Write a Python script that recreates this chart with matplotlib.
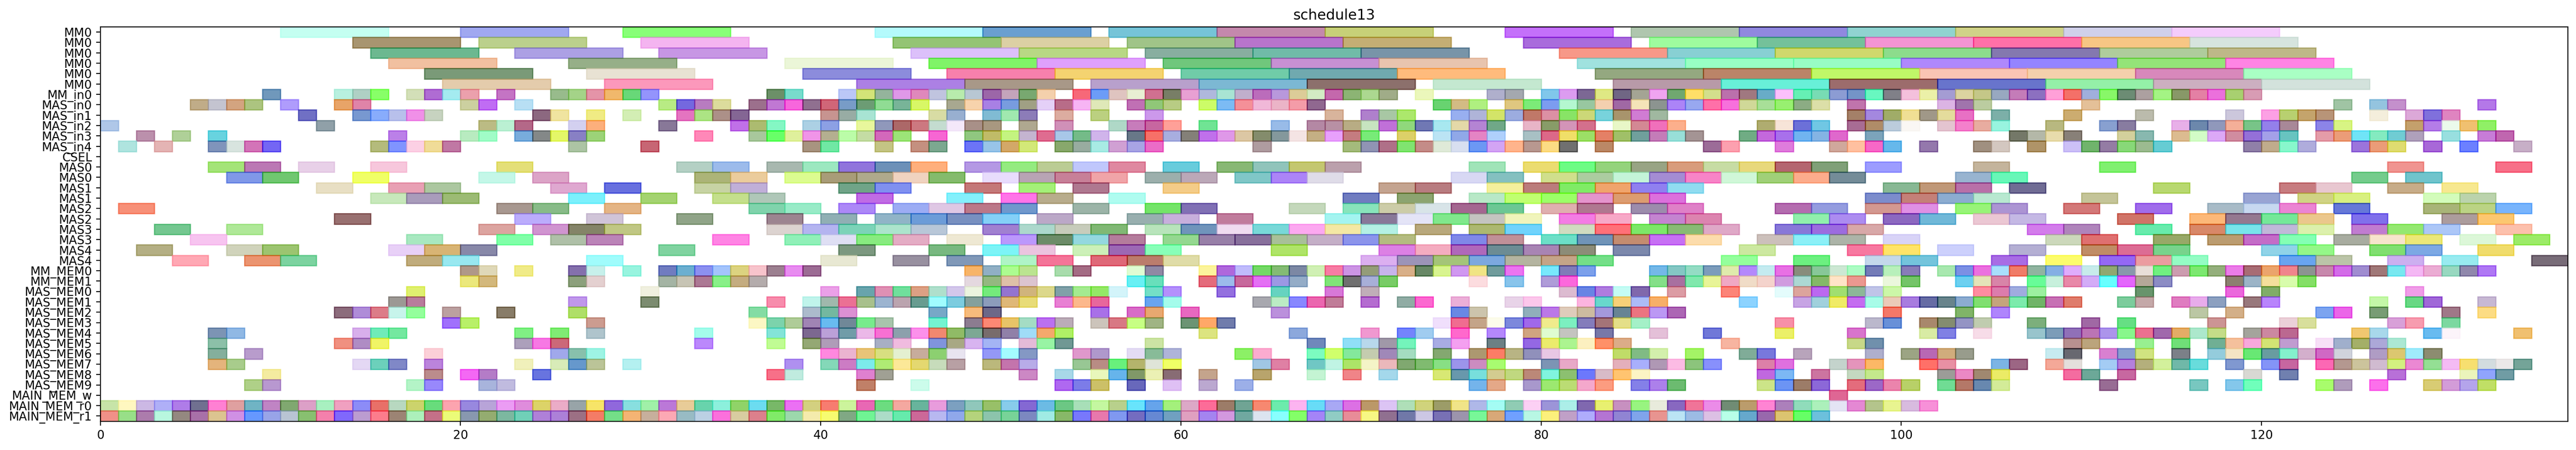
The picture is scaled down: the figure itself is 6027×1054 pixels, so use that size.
"""
Gantt view of one schedule: each row is a resource, each bar one operation.
"""
import matplotlib
matplotlib.use('Agg')
import matplotlib.pyplot as plt

TITLE = 'schedule13'
ALPHA = 0.6

row_labels = ['MM0'] * 6 + ['MM_in0', 'MAS_in0', 'MAS_in1', 'MAS_in2', 'MAS_in3', 'MAS_in4', 'CSEL',
              'MAS0', 'MAS0', 'MAS1', 'MAS1', 'MAS2', 'MAS2', 'MAS3', 'MAS3', 'MAS4', 'MAS4',
              'MM_MEM0', 'MM_MEM1', 'MAS_MEM0', 'MAS_MEM1', 'MAS_MEM2', 'MAS_MEM3', 'MAS_MEM4',
              'MAS_MEM5', 'MAS_MEM6', 'MAS_MEM7', 'MAS_MEM8', 'MAS_MEM9',
              'MAIN_MEM_w', 'MAIN_MEM_r0', 'MAIN_MEM_r1']
durations = [6] * 6 + [1] * 6 + [1] + [2] * 10 + [1] * 15

# start time -> colour as it looks on white
mm0_a = {10: 'c4fff2', 20: 'a0a8f0', 29: '88ff78', 43: 'b4fafc', 49: '6a9fd0', 56: '76c4d8', 62: 'c488ac', 68: 'c8d078', 78: 'c470fa', 85: 'b0c6ae', 91: '9088e0', 97: '90d4d0', 103: 'd0d288', 109: 'd0d0ea', 115: 'f4ccfc'}
mm0_b = {14: 'a89570', 21: 'bcd08c', 30: 'f4b4f0', 44: '94c474', 50: 'dcd0a4', 57: 'a0c488', 63: 'b874cc', 69: 'c4ae74', 79: 'aa6cdc', 86: '9efc9e', 92: '74c29a', 98: 'f494d4', 104: 'ff70a8', 110: 'f8c684', 116: 'd6e4de'}
mm0_c = {15: '6cb890', 23: 'aca0e4', 31: 'c896e4', 45: 'dcc0fa', 51: 'b8d884', 58: '88aea0', 64: '70bca8', 70: '7894a8', 81: 'f89888', 87: '88d0d4', 93: 'd0d86c', 99: '8cdc8c', 105: '8478b0', 111: 'b0cc9c', 117: 'beb888'}
mm0_d = {16: 'f2c0a0', 26: '96b088', 38: 'ecf6d8', 46: '80f468', 52: 'e0a0fc', 59: '70c87c', 65: 'c890d4', 71: 'e8c4ae', 82: 'a0e2e0', 88: '98ffc4', 94: '98fcc4', 100: 'b088fc', 106: '9484ff', 112: '94e478', 118: 'ff84e4'}
mm0_e = {18: '7a9a78', 27: 'e8e2d4', 39: '8c8cdc', 47: 'f880ac', 53: 'f4d470', 60: '70cca8', 66: '70aab0', 72: 'ffbc7c', 83: '94a880', 89: 'bc8468', 95: 'c0f868', 101: 'fac4b4', 107: 'f4d0ac', 113: 'd888bc', 119: 'aaffc4'}
mm0_f = {19: 'e4ccac', 28: 'fc98bc', 42: 'ac80e4', 48: 'a89888', 55: 'b8a0cc', 61: '7cb8d4', 67: '8c706c', 74: 'c4e8d0', 84: 'b89aa8', 90: '68f0d8', 96: '9c6c6c', 102: '6874cc', 108: '94f0a8', 114: 'ccb0c0', 120: 'd4e2dc'}
mm_in0 = {9: '7098bc', 13: 'b8f0e0', 14: 'b0d0c4', 15: '88ff68', 17: 'd4e0b8', 18: 'b06cd4', 19: 'a4ecf0', 20: 'eca0ac', 22: 'c474c4', 25: '98bc8c', 26: 'a4d488', 27: 'e494a8', 28: 'f0b86c', 29: '68d878', 30: '9494fc', 37: '6c9068', 38: '78dccc', 41: 'bcc8f8', 42: 'd4e478', 43: '94b49c', 44: 'e098e8', 45: 'e088bc', 46: 'c0c4e0', 47: 'b8ecac', 48: 'b8c8d4', 49: '9c64a8', 50: 'c4a4bc', 51: '78a870', 52: 'f4d0ac', 54: 'f86878', 55: '6c9cf8', 56: 'e0c4c0', 57: 'e8eed4', 58: 'd07090', 59: '787e64', 60: 'e8a0d4', 61: 'b0b8dc', 62: 'a8e4d4', 63: 'c0b0cc', 64: 'bc6cbc', 65: 'b898dc', 66: 'dccc98', 67: 'd4ecc4', 68: 'c468ac', 69: '8cb474', 70: 'acd890', 71: 'a0ac88', 73: 'ecf8bc', 77: 'b0b0cc', 78: 'a4a8b0', 80: '80c8ec', 81: 'dc9cf0', 82: '7c6894', 83: 'e0e884', 84: '706484', 85: 'a4a494', 86: 'f0a4f0', 87: '70a870', 88: 'ffe068', 89: 'd4e08c', 90: 'bc70ac', 91: 'a07880', 92: '68acc8', 93: 'fcc0fc', 94: '60f0b4', 95: '78dcb4', 96: '8c9cd4', 97: '7494c8', 98: '68f8c0', 99: '808088', 100: 'f4c0dc', 101: 'ecf0a8', 102: 'a49cd4', 103: 'dcd4a0', 104: 'c4c888', 105: '98a8c0', 106: 'c47cb8', 107: '8c70c0', 108: 'ffa0d8', 109: 'f47068', 110: 'a0b0dc', 111: '88f868', 112: '6c8c74', 113: 'aca0a0', 114: 'a4f484', 115: '889868', 116: 'e480a4', 117: 'ec70dc', 118: 'a8d070', 119: 'd89cb4'}
mas_in0 = {5: 'c0ac88', 6: 'c4c4d0', 7: 'd4a480', 8: 'acc480', 10: 'b09cfc', 13: 'e8a468', 14: 'e084a8', 20: 'ccd0a0', 21: 'c06cf4', 23: 'b8e0f4', 31: 'b8ec84', 32: '7468e0', 33: 'b87cc0', 34: 'dcdc9c', 36: '9c708c', 37: 'c078d4', 38: 'f864dc', 39: '907090', 40: 'd06478', 41: '789cc8', 42: '6c9c74', 43: '90dc94', 44: '78b498', 45: 'd8f860', 47: 'a8a890', 48: 'f8d4ac', 49: 'a880e4', 50: '789ce0', 51: 'a0a084', 52: 'e4d0f8', 53: 'b86c88', 54: 'f8b4f4', 55: 'e0e8b8', 57: 'c070b4', 58: '90c878', 59: 'b8cc84', 61: 'ccfc68', 62: '7cbcf4', 63: 'f49098', 64: 'f0b8d8', 65: 'ecb4c8', 66: 'f49ca8', 67: '906890', 74: '68d470', 75: 'd4bc84', 76: 'b0f080', 78: 'e0c880', 79: '7cec78', 80: '7c9cf0', 81: 'b4f8d0', 82: '98c8a0', 83: 'f4d0b0', 84: 'a068a4', 85: 'f4e4b8', 86: '8c9490', 87: 'ac84f8', 88: '98a8f0', 89: 'ff70a8', 90: 'f870dc', 91: 'd0d898', 92: 'a8e098', 93: '98f070', 94: '8cac84', 95: 'dce0a8', 97: 'c074ac', 102: 'dcb4e4', 103: 'a074ac', 104: 'bccca0', 110: 'e4c098', 124: 'a0c4a4', 126: '94c4e0', 127: 'c490cc', 132: 'b478e8'}
mas_in1 = {11: '7070c4', 14: '7898d0', 15: '88acfc', 16: 'b8c0ec', 17: 'f090e8', 18: 'c8d4c0', 24: '8c6880', 25: 'f0e4a0', 27: 'f0ec84', 29: 'd4eeb4', 32: 'e474c0', 33: 'ace484', 34: 'ac9088', 35: '846494', 40: 'c89490', 41: '98aca4', 42: 'a8e4d4', 46: 'd8dca4', 47: '98b0d0', 49: '80bcd4', 50: 'a0e8b0', 51: '8c7cb8', 53: 'dcaca0', 55: 'bcd080', 58: 'cc98ec', 68: 'd8b49c', 70: 'b080cc', 71: 'a8c8a4', 72: 'ace86c', 75: '98b0f0', 76: 'b0b4d8', 77: 'd4e468', 78: '9cace0', 79: 'c07868', 80: 'dc90a4', 81: '88e460', 82: 'ccd878', 83: '78d4dc', 84: 'a8946c', 85: 'd07cd4', 86: 'a0b8a0', 97: 'a48068', 98: 'a488e0', 99: 'a0ac68', 100: 'f0e094', 101: 'a09888', 102: 'e4dc9c', 103: 'e870c4', 105: '7cb0a8', 109: 'ccac70', 113: 'bcbcac', 118: 'ccc8dc', 120: 'fca0e4', 121: 'b8d070', 122: 'c4a46c', 123: 'b89478', 126: 'f4eedc', 128: 'dca8d8', 129: '8070dc', 130: 'e084c0'}
mas_in2 = {0: 'b0c8e8', 12: '90a0a8', 21: 'bcbc84', 22: 'bcf0d4', 23: 'b46888', 26: 'd4d0f0', 27: 'fcb07c', 31: '887898', 35: 'c070e8', 36: 'acbc70', 37: '84f8c4', 39: 'acd0e4', 40: '8ca0e4', 42: 'e8f89c', 43: '9098bc', 44: 'ac6868', 45: 'cc7880', 46: 'c4dcd0', 47: 'f4e8fa', 48: 'a89088', 49: 'a89880', 51: 'b0a890', 53: 'd090b8', 56: 'b0d8c8', 57: 'c87cbc', 58: 'c860a0', 59: 'ffa098', 61: '70e494', 65: '98bce8', 67: 'b488a4', 68: 'b890a4', 69: 'b8ac84', 70: 'c8e4c0', 71: 'c070d8', 72: '90d87c', 73: '7078b4', 74: 'a8e8f0', 75: 'e4d8a8', 76: 'b484d4', 77: '70a888', 79: 'e8b4c8', 80: '889c68', 81: 'd494b8', 82: 'd4708c', 84: 'e8f8c8', 85: 'd48894', 86: 'f070bc', 87: 'fcb08c', 92: 'b0ac70', 93: 'f8e4d8', 94: '6c70d8', 95: '70c8e4', 97: 'a86c94', 98: 'b08c68', 99: 'bcccdc', 100: 'faf8f4', 102: 'e4c4d0', 103: 'f480cc', 104: 'e8aca0', 105: '98f4e0', 108: 'b8b880', 111: '88a0d0', 112: '887ca0', 115: 'e8b0e8', 116: '6c88ac', 117: '9098bc', 118: 'f4b098', 119: '78c488', 120: '9480ec', 121: 'a88898', 123: '8c84e8', 124: 'd8f484', 128: 'c4a06c', 129: 'b47ce8', 130: 'ecfaec', 131: 'f0c070', 132: '90f064'}
mas_in3 = {2: 'bc90ac', 4: 'b0d098', 6: '68d4e0', 16: 'bc80e8', 20: 'b8ecc0', 21: 'a0fcc8', 23: '78acdc', 24: '848888', 25: 'e4f868', 26: '8880c4', 27: '9cd478', 33: 'ff88b8', 36: 'a8c89c', 37: '68ff68', 38: 'e0f09c', 39: 'f094e8', 40: 'b4b090', 41: 'bcfca8', 42: 'c4dca4', 43: 'd468bc', 44: '9ce478', 46: 'f864d4', 48: '90c880', 49: 'c0bc68', 50: 'c4f480', 51: 'c4b4d0', 52: 'e06c90', 53: 'a8c8e8', 54: '74bc88', 55: 'd0b4ec', 57: '687888', 58: 'f87068', 59: 'a8aee0', 60: '848078', 61: 'c070ec', 62: 'e098e8', 63: 'dcc8a4', 64: '848c6c', 65: '84989c', 66: 'f4e4e4', 67: 'c4b084', 68: 'e8a0fc', 69: 'c47c80', 70: '78ec78', 72: 'dcd068', 74: 'bce4f4', 75: '90a8e8', 76: 'e484c4', 77: 'b0d0fc', 79: 'a8c0c4', 80: 'dc6888', 81: 'f0e068', 82: '9ce060', 83: 'e48064', 84: 'a0c068', 85: '70a09c', 86: 'c47cb8', 87: '98e0d8', 88: 'a49494', 91: '70ac84', 92: 'c468dc', 93: 'a870ec', 94: '70b4f0', 95: '84b4e4', 96: 'e068cc', 98: '7ca4bc', 106: '747868', 107: 'b4b8a8', 108: 'e8dcac', 109: '888078', 112: 'd4d09c', 113: '88b8b0', 115: 'dcbc90', 116: 'd4fcc8', 117: 'dca8f8', 118: 'd08ca0', 119: '9470d8', 120: 'a4a0e8', 121: '68c4c0', 123: 'e49ca8', 124: 'ec9c78', 125: '70e4f8', 126: '84ecc0', 127: '70ccd4', 128: 'b0a0bc', 130: '98e0e0', 132: 'c87cd8', 133: 'c060b0'}
mas_in4 = {1: 'b0e4e0', 3: 'e4b4b4', 6: '8094bc', 7: 'd8e4e0', 8: 'd474b8', 9: '7464f4', 15: 'b4bc7c', 16: '8094ff', 17: 'fcd0e4', 18: 'f0dc98', 19: 'c078a4', 26: 'acc4a4', 30: 'c86474', 39: 'a89480', 40: '70e8a4', 43: 'c4c484', 45: 'c49080', 46: '7ca890', 48: '6c74f8', 49: '98c4e8', 50: 'd4a868', 51: 'd4e878', 53: '88a86c', 54: '98aca0', 55: 'a8ece4', 56: 'd0a0d4', 57: 'a8a4e4', 58: 'ec6cc8', 64: 'b09ca0', 69: 'a4bc7c', 70: '9094b4', 71: 'b07088', 72: '80e470', 73: 'c48c88', 74: 'e0ead8', 75: 'd8e0f0', 76: '6c98f4', 77: 'd4a4f4', 78: 'ffb48c', 79: 'b89890', 80: 'fcdc84', 81: '707070', 83: 'bc8864', 89: '9c6c98', 90: 'fca0b0', 93: 'e07cdc', 96: 'd0a89c', 97: 'ffc0a0', 98: 'f868c8', 99: '64b8ec', 101: '9478ac', 104: 'a09080', 105: 'd4c8c0', 107: 'b09468', 109: 'ccc0f8', 110: '70b46c', 111: '947ca4', 112: '88d878', 113: '9cbc90', 114: '64ccd4', 119: '9080a8', 120: 'c0ac8c', 121: '88f8cc', 122: 'b0acdc', 125: '9c74dc', 126: 'ec9c78', 127: 'e0dc70', 129: 'a868d8', 131: '6c80ff', 134: 'c8b0c8'}
csel = {}
mas0_a = {6: 'a4e478', 8: 'bc78b4', 11: 'e8d0e8', 15: 'f8c8dc', 22: 'e4e078', 32: 'b4d0c4', 34: '9cbcec', 37: 'a8b8b0', 39: '9ce8c0', 41: '9074dc', 43: '6c90b8', 45: 'ffb07c', 48: 'b498e4', 50: '94ec80', 52: 'bccc94', 54: 'c0c8fc', 56: 'e088a0', 59: '68ccdc', 62: '88b874', 64: '90c4bc', 66: 'c4c870', 68: 'bca0ac', 76: 'a0e4b8', 79: 'ecdc70', 81: '6cfc84', 83: '94d47c', 85: '98a484', 87: 'd89c7c', 89: 'c8dca4', 91: 'e8d87c', 93: 'b46470', 95: '80a078', 98: '9c9cff', 104: 'c4b49c', 111: '80f070', 127: 'f09490', 133: 'f87088'}
mas0_b = {7: '8098e8', 9: '70c870', 14: 'f0ff58', 21: 'c4f8e8', 24: 'dca4c8', 33: 'acb478', 35: 'eccc9c', 38: 'dcfc90', 40: 'a89c78', 42: 'b0aa8c', 44: 'f0d4c0', 46: '84bc6c', 49: 'e8dcfc', 51: 'b8a4b4', 53: 'c88098', 55: 'f0a4a8', 58: '9cb0ac', 60: 'bca8b8', 63: '80c8c8', 65: 'ac84f8', 67: 'e0dce8', 75: 'd8d8f4', 77: '84c0c0', 80: 'd0e08c', 82: 'accca0', 84: 'c4f4d8', 86: 'a48cd4', 88: 'f884c8', 90: 'd0f8d8', 92: 'a0d078', 94: 'fcac8c', 96: '748c98', 103: '98b4d0', 105: '68f8b8', 125: '74cc8c', 128: '70c4cc'}
mas1_a = {12: 'e8e0c4', 16: 'e8a0b4', 18: 'acc8a0', 25: 'e0a8d0', 28: '6870e0', 33: 'c8d4a4', 35: 'c0b0d8', 41: '70a488', 43: '8090f0', 48: 'c47878', 51: 'a4f078', 54: 'b07890', 59: 'f4cc88', 71: 'c4a490', 73: 'b87c80', 77: 'f4f09c', 79: 'bc7c7c', 81: '80ec64', 83: 'f0a46c', 85: '9080f0', 87: '90dcf0', 99: '88b894', 101: 'c09878', 103: 'b870a8', 106: '706c94', 114: 'b8d870', 121: 'c87c80', 123: 'e8c8d0', 127: 'c8ac88', 130: 'f8e890'}
mas1_b = {15: 'c8e8bc', 17: 'aa9cbc', 19: '9cbc74', 26: '7cf0fc', 30: 'a4d470', 34: 'c4e08c', 36: 'b0c8b8', 42: 'c06ce4', 47: '84f0fc', 50: 'ff74e8', 52: 'b8ac8c', 56: 'b0fcf0', 69: '707cc0', 72: '8ca470', 76: 'b8e8c8', 78: 'c0ff70', 80: '9cff68', 82: 'e494cc', 84: 'dc9c70', 86: 'dc70dc', 98: '7c8ccc', 100: 'c48078', 102: '8cacd0', 104: 'b8e8d0', 110: 'c4c498', 119: '98a4d4', 122: 'd0d484', 124: 'd8f080', 129: 'd4fcbc', 131: 'bcd4ac'}
mas2_a = {1: 'f89078', 22: 'a89890', 24: '88bc88', 28: 'e4b484', 36: '80d4ac', 38: '98ecc8', 41: 'ac88f8', 44: '9cacf4', 46: 'e0c8e4', 48: 'bc7888', 50: '7098cc', 54: '9cb4a8', 58: '74e468', 60: '8070b4', 66: 'c4d8bc', 69: '88e4bc', 71: 'cccca8', 73: 'd8e4e8', 75: 'a46490', 77: '6cc894', 80: 'e0b0b0', 82: 'b07890', 85: '9c8cac', 87: 'e080c8', 93: 'b46cb0', 95: '949ce0', 98: 'd49890', 100: 'e090e4', 103: '98f478', 105: 'ac94d4', 109: 'd47878', 113: 'a06cec', 117: 'a8bcc8', 119: 'c8d8f0', 121: 'ec84d4', 124: '6478d8', 129: 'a8b478', 131: 'bcd484', 133: '78b4fc'}
mas2_b = {13: '987070', 23: 'bcacfc', 27: 'd0c4d8', 32: '90a488', 37: '9c8490', 40: '90b0b4', 43: '90b4c8', 45: '6c9cd8', 47: '7890c0', 49: '84d0f8', 52: 'bca8c8', 57: '98b0b0', 59: 'c8b0dc', 62: 'c07c9c', 68: 'a4f4f0', 70: '887898', 72: 'e4e4f8', 74: '80e88c', 76: 'c4c4c0', 78: 'f0f4bc', 81: 'f47ce4', 83: 'f8a8c8', 86: 'c484d0', 88: 'dc84b0', 94: '90f0ac', 96: 'ac8cf0', 99: '8c68c0', 101: '70b8d8', 104: 'ecc8d4', 106: 'c4b8e4', 112: 'd07468', 116: 'fcb878', 118: '947890', 120: '74e898', 122: 'ecc88c', 125: '8070ec', 130: 'ac9c9c', 132: 'fcc870'}
mas3_a = {3: '74c890', 7: 'b0e898', 21: 'dca4a0', 24: 'd094d0', 26: '848468', 28: 'c0c884', 37: 'dcd4d0', 39: 'b4b4f0', 41: '7cd4b8', 43: 'ace4cc', 45: 'b8c8d8', 49: 'a080d0', 51: 'acd8cc', 53: 'c8ccbc', 55: '80b874', 58: 'b8e4bc', 60: '7094bc', 62: 'f0dcf0', 64: '78d8d8', 66: 'fca8f0', 68: 'f4e8a4', 70: 'b4f0e4', 73: 'b8a87c', 76: 'acb870', 78: '70d4fc', 81: 'd0dcc0', 83: 'ff7078', 85: '7ce868', 87: '88bc74', 89: 'e0a8c8', 93: '8878d8', 95: '9c6ce0', 97: 'd8a8a8', 107: 'd47cec', 109: 'b084bc', 113: '68ecac', 116: 'd88868', 118: '78e4ec', 120: 'c0b8d8', 122: 'dcf0ac', 125: 'c07cd0', 127: '94e870', 129: 'acc8f8', 133: 'fcc0ac'}
mas3_b = {5: 'f8c4f0', 17: 'a8e8c0', 22: '80ffa8', 25: 'b0c0a8', 27: 'bc84b8', 34: 'ff84e4', 38: '90f0b8', 40: 'e0e0f4', 42: '88ec80', 44: 'e4acc4', 47: 'eee8d4', 50: 'bc98fc', 52: '6c8c68', 54: '94d8e0', 56: 'b47c9c', 59: '94d890', 61: '9880a8', 63: '88709c', 65: 'a8c098', 67: 'c4b0c8', 69: '8c94ec', 71: 'b4bc80', 75: '8088e8', 77: 'c09098', 80: '6ce0c8', 82: '7094b8', 84: 'c48c70', 86: 'c870f4', 88: 'fcdcac', 92: 'ccc0bc', 94: '8cf0f8', 96: 'acb4a8', 99: 'd8d4f8', 108: 'ccd8bc', 110: 'e07070', 114: '98a868', 117: 'bc9c70', 119: 'c46cc8', 121: '84ffb4', 124: 'a8aca0', 126: 'f8e4cc', 128: 'ece878', 131: 'dcf8d8', 134: '9cec68'}
mas4_a = {2: 'b4b084', 7: 'd0d4bc', 9: '9cc470', 16: 'e8d0f8', 18: 'd8b474', 20: '8888a8', 31: '80d4a0', 41: '7c9880', 46: '78b880', 49: '7cf4f8', 51: 'ecc4e0', 54: 'ccf0b8', 56: '9c68b4', 58: '88ffb8', 65: 'b0e468', 71: 'dc80e4', 73: 'f4acc0', 75: 'b068bc', 77: '6c8c94', 79: 'a884b4', 81: '8c8c78', 84: '7c88ac', 91: 'cce8a0', 97: 'f878a0', 99: 'ffe468', 102: 'ccd0fc', 106: 'b4b0d4', 110: 'c08c64', 112: 'dc6c94', 114: '78d48c', 120: '90d4e8', 122: '94f888', 126: '80e070', 128: '7ca8e4', 132: 'f0dc6c'}
mas4_b = {4: 'ffa8b4', 8: 'ec9470', 10: '7cd4a0', 17: 'c0ac7c', 19: '98e8f0', 27: 'a0fcfc', 40: 'e8e8d4', 44: '9890a0', 47: '8098b8', 50: 'b0f4c8', 52: 'f47498', 55: 'e06878', 57: 'bc7c6c', 59: 'e0dca8', 70: 'dcb0f0', 72: '9c94b8', 74: 'a4c478', 76: '7ca8e0', 78: 'b4b4a0', 80: 'c4a488', 82: '74e088', 90: '94ff9c', 94: '6cf080', 98: 'c4d8ec', 100: '74c4dc', 105: 'a86ce4', 108: 'fcfc6c', 111: '9468f4', 113: 'ec9ca0', 115: '94fcc4', 121: '68a4f0', 123: 'bcc4a8', 127: 'ccb0f0', 130: '98ecf0', 135: '786c78'}
mm_mem0 = {20: 'b09888', 21: 'e0d8b8', 23: 'f0ec88', 26: '8470ac', 27: 'c8f0ec', 29: '98f4e0', 31: '707cc0', 32: '6cb0d0', 33: '8c90f0', 34: 'a4c4fc', 35: 'dcd480', 36: 'f8c4cc', 37: '9c8090', 38: 'e88cf0', 39: '9c6c94', 48: 'f8b468', 49: '90b0c4', 50: 'acfc90', 51: 'bce490', 53: 'a8dcac', 54: 'a46c84', 57: 'e0fcd4', 58: '9088a4', 61: 'fcf49c', 62: 'b068dc', 63: 'c0bcfc', 64: '74d864', 65: '84bc74', 66: '7c88a4', 67: 'd0f0b4', 68: 'f87ca4', 69: 'cc94e4', 70: '949c78', 71: 'c8b4ec', 72: 'd8b088', 73: '688860', 74: 'd8f490', 75: 'd098f0', 76: 'f0e484', 77: '709c9c', 78: 'ec74f0', 80: '78e8fc', 81: '807cb8', 82: '7ca0ec', 86: '74b8e8', 87: '84c8c4', 88: '94dcc4', 89: '7c9cbc', 90: 'e0ecac', 91: 'b488fc', 92: 'c4ecf0', 93: 'e870e4', 94: '888c7c', 95: '88c898', 96: 'cce8d4', 97: 'acfcc4', 98: '747cb8', 99: 'b8f0bc', 100: '887cb8', 102: 'a8e8b0', 103: '7c90e4', 104: 'ec70e0', 105: 'a8e0fc', 106: 'f07c68', 107: '90b4a0', 108: '84b0e4', 109: 'e0acfc', 110: 'c8ecec', 111: '90a870', 112: '8898ac', 113: 'e8e0d8', 114: '70f080', 115: 'cc9cb0', 116: '7ce870', 117: '94b07c', 118: 'ec7ce8', 119: 'a86c74', 120: 'eca46c', 121: 'f0848c', 122: '8c9490', 123: 'c888ac', 124: 'd46ce8', 125: 'a08cd0', 126: 'a07878', 127: '78e8f0', 128: 'f4b8f4', 129: 'ecacd4', 130: '98d8c0', 131: '9088ac', 132: 'b078f4'}
mm_mem1 = {20: 'ece87c', 21: 'd4b87c', 26: '8ca07c', 27: 'e4d0d0', 31: 'a4b4a4', 32: 'c8c4b4', 33: 'ac7894', 34: '88f088', 35: 'c4ac80', 36: 'b4acac', 48: 'e4d8e0', 49: '94b880', 50: 'e0c0a8', 51: 'dcc4d0', 57: '68f0f4', 58: '68e0bc', 61: 'e46c7c', 62: '9cbcec', 63: 'c8689c', 64: 'e470f4', 65: '9c98e4', 66: '94acc8', 68: '80e478', 69: '707070', 70: 'a8b0d8', 71: '78cc60', 76: 'fcdce0', 78: '88c4ec', 80: 'b09cd8', 81: 'fc68dc', 86: '84e088', 87: 'a870a0', 88: '80e8ac', 89: 'e8f498', 90: 'f0a8c4', 91: 'f0dcc8', 92: 'f4d4cc', 93: 'd09ce0', 94: 'acd8d4', 95: '84b868', 96: 'ffe4c8', 97: 'ec9890', 99: 'ecf8dc', 100: '74c468', 103: '6cd0f0', 104: 'e4e4b8', 105: 'd884a8', 107: '68fc98', 108: 'c8f0dc', 109: 'e888a8', 110: 'd4acf8', 111: '68ffff', 112: 'e464fc', 113: 'b4a898', 114: '8c8cc4', 118: '8c8070', 119: '9cb4c8', 120: 'f4e09c', 121: 'd8fcac', 122: '84e064'}
mas_mem0 = {17: 'e0f070', 30: 'f0f0e0', 40: 'eca0e8', 42: '68a4ac', 43: 'e090b4', 44: '70e09c', 45: 'dca084', 46: 'b0e0cc', 47: 'd4c8ec', 48: 'ecf4e0', 49: '74ec7c', 50: '9474d0', 51: 'd0b47c', 52: 'dcd88c', 53: '80a0a8', 54: 'a4ec90', 55: '94e864', 56: 'd4f4fa', 58: '74e0c8', 59: 'b490fc', 62: '9470e0', 65: '64d4c0', 68: 'd878d8', 70: 'c0aeb8', 81: 'dcbcd0', 82: '6884e4', 83: 'b07ce0', 84: 'c4fcf4', 85: '8068ac', 87: 'dc9ca4', 90: 'fc8478', 93: 'e4fcfc', 94: 'dca49c', 95: 'bc68f0', 96: 'a0e070', 97: '8cb898', 98: 'c0c4e8', 99: 'ccf8a8', 104: 'ff8ca0', 105: 'dc7cac', 106: 'a0ace0', 107: '9cf0a0', 113: '68946c', 118: 'ec68dc', 120: '80ac68', 128: 'f09ce8'}
mas_mem1 = {16: '9c9894', 17: 'b87c9c', 26: 'c098ec', 30: '7c8c70', 37: 'f88cac', 39: 'c0f4ec', 40: 'a0b8ac', 41: 'ec7094', 42: 'a8c08c', 43: '9cb4d0', 44: 'bca4b0', 45: '689c90', 46: 'a0fcff', 47: '7cccdf', 48: '84a09c', 49: '8c9cbc', 50: 'e0b878', 51: 'e8dc78', 53: 'e880d4', 54: 'fcb88c', 55: 'e8649c', 58: '68a4f0', 59: 'a4fcec', 64: 'a8a8b0', 65: 'bcecc4', 66: '8888ff', 67: 'ec64b0', 68: 'c07c98', 70: 'b46cd0', 72: '90aca4', 73: 'fc68d0', 75: 'ecb0d8', 78: 'e8d4e8', 79: 'fcc8ec', 82: 'fcb4e0', 83: '68d8cc', 84: 'f8d078', 85: 'acbcf8', 86: 'f8b068', 91: '8cd4ff', 94: 'c8a4e4', 95: 'a0d0dc', 96: 'f0ec60', 97: 'c46cf0', 98: 'a8fce8', 99: 'eccab8', 100: 'a87ce0', 101: '606ca4', 102: '68848c', 103: '8cacd0', 104: '80e070', 105: 'c4a47c', 106: '7cecac', 107: '70b468', 108: 'c870b4', 109: 'e07c6c', 112: '7ccc9c', 113: 'c4a8a8', 115: 'e07cc0', 116: 'e8acec', 117: '8ca0c0', 119: '98787c', 120: 'b884fc', 126: 'c4f8a8', 128: '68d884', 129: 'a068d8', 132: 'c8b8d4'}
mas_mem2 = {13: '8c6c7c', 14: 'b08cd8', 15: 'dc7c88', 16: 'c8f4ec', 17: '94ff9c', 19: 'bca0a0', 22: '887c68', 26: 'b0e068', 36: '84dca4', 39: 'acbccc', 40: '74b8a0', 41: 'dc90d4', 46: '78a8c8', 48: 'f8bc7c', 49: '6c6888', 55: 'a870e8', 57: 'd86cc8', 58: 'e8a870', 60: 'e868c0', 65: 'bc90dc', 75: '6888e4', 76: 'ccc4ac', 79: '90b0bc', 80: 'bc78e8', 81: 'e0ccbc', 82: 'ccbca0', 83: 'a498dc', 84: '688494', 85: 'ec7480', 86: 'bc98f4', 87: 'ac64b4', 99: 'f47868', 103: '80b468', 105: 'b084fc', 116: 'bcc8a4', 118: 'd4b088', 123: '7ca4f0', 124: 'ec64e8', 126: '789c74', 130: 'a07888', 132: 'fcdc84'}
mas_mem3 = {19: 'a070fc', 20: 'b8f068', 27: 'cc9c90', 36: 'fcf8c4', 37: '7cd4ac', 38: 'b0cc98', 39: 'a084b4', 40: '68bcf0', 41: '708898', 42: '78ec8c', 43: 'a8c4ac', 46: '74f4d0', 48: '8c7c90', 49: 'fc8874', 50: 'e8c468', 51: 'a4dcc4', 52: 'bc70f0', 53: 'bcacb8', 55: 'ccc4bc', 56: 'd87884', 57: 'c8ff84', 58: 'a0b484', 60: '6c9474', 61: 'ffa868', 62: '707cac', 74: 'f0e0fc', 75: 'f06c90', 76: 'c4a488', 77: 'fcfcec', 78: '7c88dc', 79: 'a068ec', 80: 'f0ec8c', 81: '7cf0c0', 82: '847cbc', 83: 'a47478', 84: 'e4e088', 85: 'a4f0c8', 93: 'f890a8', 98: 'bcb8cc', 99: '6890d8', 101: 'a8886c', 102: '848c70', 103: '9494c4', 104: 'c0ccb0', 107: '7cb07c', 110: 'a068a4', 112: '60e084', 117: 'cc9494', 121: 'ecd0d8', 122: 'd8e09c', 127: 'd8a0d8', 128: 'f89cb0', 130: '7cd8a0'}
mas_mem4 = {6: '7c94b4', 7: '90b8e4', 14: 'd8b0ec', 15: '70ecb8', 16: '74e8a0', 23: '80f084', 25: '80ec74', 27: 'b0c4cc', 33: 'a4fcec', 37: '84e4d8', 39: '7c6890', 40: 'bca0d8', 41: '709ca8', 42: 'ecb8e8', 43: 'f870d4', 44: '8ca0ac', 45: 'fc90ec', 46: 'f08870', 47: '90bc5c', 48: '7ca894', 49: '786c6c', 50: '9080a8', 51: 'a0dcf8', 52: 'f4a86c', 53: 'b0f060', 61: 'dce480', 66: '8ca8dc', 70: 'f098d0', 72: '7484fc', 73: 'a0ccf0', 75: 'ff68cc', 77: 'b488fc', 79: 'd0a480', 80: 'e0fcd0', 81: 'c4c4c0', 83: '7878a8', 86: 'e4c0d8', 89: '7078d8', 93: 'ecf068', 97: 'd874cc', 101: 'd8eca4', 102: '8080e4', 104: 'f8dce8', 107: '98c4cc', 108: '7c9cb8', 109: '9070b8', 110: 'bc74b4', 111: 'ac94ec', 112: '88f88c', 113: 'ec7090', 114: 'a068ac', 115: 'e4ac60', 116: 'ace8cc', 117: 'c4dc88', 119: 'a4a49c', 120: 'cc88a0', 121: 'bc6890', 125: 'f0c870', 126: 'a8d8ec', 129: '68bcf0', 130: 'fcf4fa', 134: 'f0c070'}
mas_mem5 = {6: '8cc0a8', 13: 'f09080', 14: 'b08cc4', 15: 'f0f464', 23: 'aca0bc', 24: 'f878e4', 25: 'cc6878', 33: 'bc88fc', 37: 'c0fc94', 39: '94a874', 40: 'b09cb8', 43: 'a8b0c4', 44: 'f0bce0', 46: '8094dc', 47: 'a8a884', 48: 'd8b4f0', 49: 'a4b4f4', 51: 'e4bcd8', 52: '98f4a4', 53: '709894', 58: 'cce4a4', 67: '7088bc', 69: '90e0f8', 70: 'b8d8ec', 71: 'a098a8', 72: '74f4bc', 74: 'a8ace4', 75: 'f4a0f0', 77: '6c8084', 79: '9468e4', 80: 'ecec6c', 81: 'acf490', 82: 'fcf0c0', 83: 'ff9068', 84: 'dcac88', 90: 'f8b4a0', 97: 'c8d888', 98: '7090ac', 109: 'b89090', 110: 'bca47c', 113: '98f090', 115: '70e078', 117: '70b094', 118: 'f4c09c', 119: 'f8a8dc', 120: 'd4e474', 121: 'c09cd0', 123: 'f8e0f8', 124: 'a0b0cc', 125: 'a4b068', 126: 'aca8d8', 127: 'ace8d4'}
mas_mem6 = {6: '84b09c', 8: 'b89ccc', 18: 'fcd0d8', 25: 'a0a8ec', 26: '88c0ac', 27: '9ef4e4', 40: 'ff88e0', 41: 'ecb4d0', 42: 'e8c478', 43: 'd8e080', 44: 'e4f0d0', 45: 'c8ac9c', 46: '8cd070', 47: 'e8e4f0', 49: '9498f8', 50: 'a4fcff', 51: '8498c4', 54: 'e098cc', 55: 'b098cc', 57: 'e4dcf4', 58: '88bc98', 59: 'b0b4d8', 63: '8cf05c', 64: 'fcacd0', 67: '7cfcc0', 68: 'd0ff6c', 69: '84e89c', 70: 'c4ccb0', 71: 'a088b8', 72: 'a4dcc0', 74: '84a870', 76: 'ac9870', 77: 'fc7c64', 78: 'b8b484', 79: '9090bc', 80: 'e8c8e4', 84: 'c0dc68', 85: '80bc84', 86: 'd4f0ac', 88: 'a4f464', 91: '80ac98', 92: '7878dc', 94: 'b8a4bc', 98: 'b0b0cc', 100: '9ca484', 101: 'b868b4', 102: 'd0ac7c', 103: '989c8c', 108: 'c8ecf0', 109: '686870', 111: 'd880d0', 112: '88a0d0', 113: 'd0e480', 115: '7c8088', 117: '94ccdc', 118: 'f4e4c4', 119: '68e874', 120: '689ca0', 121: '84f0cc', 122: 'd4b0cc', 123: 'd068c4', 124: 'd0d4dc', 126: 'b09cc4', 127: 'dcc870', 128: 'a0ecfc', 129: '8c8c70'}
mas_mem7 = {6: 'e4b47c', 7: 'a8cc8c', 14: 'e4d8f4', 15: '6cd0bc', 16: '8088c8', 18: 'bc84dc', 23: 'f0f0bc', 25: 'd8ecb8', 26: '6098cc', 27: 'bcc498', 29: 'b4f0f0', 38: 'b090f0', 40: '84d8b8', 41: 'cc7cc4', 42: '7cecec', 43: 'b0ec74', 44: 'fce898', 45: 'e4d870', 46: 'c8dcbc', 47: 'b8a0a4', 49: 'bcb87c', 50: 'c474ac', 51: 'b8ace8', 54: '98c894', 55: 'b88c84', 56: '68f07c', 57: 'b4b46c', 58: 'e0e4d8', 59: 'f0ff60', 64: 'a0c8e4', 65: 'e080a4', 67: '70c8c4', 68: 'c0f4e4', 69: 'ace468', 70: 'f4f4c8', 71: 'ecb8bc', 72: '80a870', 73: '80bc70', 74: '88e084', 75: '9c94ec', 76: 'cc8cc0', 77: 'a8fc70', 80: '7c94b4', 81: 'e8a8c8', 84: 'e4b0bc', 85: 'a8b0fc', 86: 'b098b4', 87: 'fcbce4', 88: '8cc47c', 89: '8890fc', 92: 'dc80a8', 93: 'e070e0', 96: 'c4d4cc', 97: 'e494bc', 98: 'fcb864', 101: 'ff7068', 102: 'e890a4', 105: '7cb4e4', 106: '9c6484', 108: 'f4a898', 109: 'e4e0dc', 111: 'a4ccf4', 112: 'b480dc', 113: 'b4b07c', 114: 'd4f09c', 115: '70b8a8', 116: '68dcdc', 118: '8098d0', 120: '8494f8', 121: 'c860a0', 123: 'fc68b4', 124: 'b49890', 125: 'ccc49c', 126: 'd0bcd0', 127: 'd4f080', 128: 'ec88d4', 129: '94e094', 130: 'f4bcf4', 131: 'f8e070', 132: 'd4dce0', 133: 'ece8e8', 134: '74a498'}
mas_mem8 = {9: 'f4eca0', 18: 'bc8c8c', 20: 'f468f4', 21: 'b47cc8', 24: '6874e0', 37: 'f87088', 38: 'c0ece0', 42: 'e080d0', 43: 'a0a094', 51: 'cc88c4', 53: 'a8d8e8', 55: 'e8f8bc', 56: '64b4ec', 57: '809868', 58: 'ecf0b4', 59: '886c74', 61: 'c4a48c', 64: 'b8a46c', 67: 'c4f4d4', 69: 'f08488', 71: 'a4d8ec', 74: 'd8e874', 75: '6898ac', 76: '78e0dc', 77: 'd4cc90', 78: 'c0d880', 79: 'bc8878', 80: '80f4e0', 81: '8cc070', 82: '6c78fc', 83: 'd8bcc8', 84: 'ffc470', 85: 'fcf4c4', 92: 'c068e0', 93: '7cb8f4', 95: 'cc74a0', 97: 'c4d8c0', 98: 'c4e88c', 102: '9c9c98', 103: 'ec88c4', 104: 'a08870', 105: 'ecec64', 109: 'f46ca0', 110: '6ca898', 112: 'c868a0', 119: 'd8d8d4', 121: '7080b0', 127: 'b870d8', 131: 'ecf4bc', 132: '90a4fc', 133: '709ca4'}
mas_mem9 = {8: 'b0d088', 9: 'b898d0', 17: 'b4f4c8', 18: '9888fc', 21: 'a8b4dc', 22: 'c0bce0', 42: 'c08068', 45: 'ccfcec', 53: 'b068f0', 54: '7c7ce8', 55: 'ccc068', 57: '6868bc', 59: 'e0c0f4', 61: 'bca8d0', 63: '9cb0e8', 76: '74b4ec', 77: 'e4a888', 79: 'a898cc', 80: '9ce870', 81: 'bcdc74', 82: 'f4a8cc', 83: 'fc9c80', 85: '8480e8', 86: 'ac80ec', 87: '6cbc70', 92: 'cce488', 93: '6c94f4', 94: '9c7c68', 95: '8c68d8', 97: 'e46c7c', 98: '9c68c8', 99: 'ec84ac', 100: 'b8d068', 102: '70dc94', 103: 'b47868', 104: '6888b0', 105: 'd4ec98', 111: '986c94', 116: '78c8c0', 118: '84c8ec', 119: '70ffbc', 123: 'a8fc6c', 124: 'b09cbc', 126: 'fc70ec', 129: 'd8cc74', 130: 'd49cd8', 131: 'b4a4ec', 132: 'c0e05c'}
main_mem_w = {96: 'e06494'}
main_mem_r0 = {0: 'c8e4a8', 1: 'fff8c0', 2: 'ccb8e4', 3: 'b0b0f8', 4: 'b07ce8', 5: '707090', 6: 'ff80d4', 7: 'e0a0a0', 8: '70b4c4', 9: 'c084c4', 10: '80a870', 11: 'dca0c8', 12: 'a8f0c0', 13: 'f0a0c0', 14: '8c8cf8', 15: 'e87068', 16: 'b8d8c0', 17: 'ccd46c', 18: '68dc7c', 19: 'fca4b0', 20: '9888e0', 21: 'b8a4d8', 22: 'ec9cf4', 23: 'e08cdc', 24: 'dcd468', 25: 'ecacc8', 26: '98a4a8', 27: 'f8e468', 28: '9068dc', 29: '88e0e0', 30: 'a0f0a8', 31: 'bc78d8', 32: 'e8cc98', 33: '68d4ac', 34: '8cf0dc', 35: '90d468', 36: '6cdcf0', 37: '78b868', 38: 'ec70f4', 39: 'd4d080', 40: 'f87c70', 41: 'ccf49c', 42: 'e868b4', 43: '6cdc80', 44: 'f4a8a0', 45: '68b49c', 46: 'e89cdc', 47: '7ca0c0', 48: '90c8bc', 49: '98c068', 50: '88ccec', 51: '8468d4', 52: '6cbce4', 53: '6cc884', 54: 'a8e0b8', 55: 'c4f8a0', 56: 'b8d08c', 57: '68e4fc', 58: '5ca4ec', 59: 'a4f07c', 60: 'dca8c8', 61: 'fc6c98', 62: '9c7c68', 63: '70a494', 64: 'f88870', 65: '6cecac', 66: 'fcb4f0', 67: '68dcf8', 68: 'a8a8f4', 69: 'dc70e4', 70: 'bc9868', 71: 'dcc4f4', 72: 'b0e0b8', 73: 'd0d47c', 74: '9c9c68', 75: 'f0e488', 76: 'b0b8e8', 77: 'a4fcf4', 78: '90ccb4', 79: 'fcd0f4', 80: '9c94d8', 81: 'aceee8', 82: '8068b0', 83: 'e8f070', 84: 'c890c0', 85: '98f480', 86: 'e8ecdc', 87: '8868c0', 88: 'f07498', 89: 'ec8ce8', 90: '708c74', 91: 'bc9c6c', 92: 'ff84d4', 93: 'ac80bc', 94: '90dcbc', 95: 'acf0bc', 96: 'e4e4f4', 97: 'e488d4', 98: 'b4c48c', 99: 'e8f490', 100: 'd8bce0', 101: 'f890d8'}
main_mem_r1 = {0: 'f09088', 1: '98e088', 2: 'ac7cac', 3: 'b8f8e0', 4: '948880', 5: 'a870a8', 6: 'dcc490', 7: 'd090e4', 8: '6498ff', 9: '98a4e8', 10: 'b8c4d4', 11: '88c070', 12: 'f480ac', 13: '8068fc', 14: 'bc9cd0', 15: 'fc7c8c', 16: '9c8474', 17: 'acf0bc', 18: 'c47088', 19: 'ecfc78', 20: '8898b0', 21: '94ac70', 22: '7cb8a0', 23: '70d0b8', 24: 'b080d8', 25: 'ac80d8', 26: '9c7084', 27: 'f47c64', 28: '74e088', 29: 'f4b474', 30: 'c8b09c', 31: 'fca8b4', 32: '98bcc4', 33: 'bcd0e4', 34: 'fc70dc', 35: 'd8cca0', 36: 'dc808c', 37: '80ec68', 38: '9cd8ac', 39: 'f4ecac', 40: 'f8fc70', 41: '80a884', 42: '70f494', 43: 'acdcc8', 44: '60ecac', 45: 'cc6898', 46: 'b8b8f0', 47: '90a8ec', 48: 'b4d47c', 49: '8cc4ac', 50: '78d498', 51: '7c88c0', 52: 'a0ece4', 53: '88b868', 54: '7878fc', 55: 'e878ac', 56: '8098f0', 57: '746cc0', 58: '5c88d4', 59: '70a0c0', 60: 'e0a0c0', 61: 'a484f0', 62: 'd498e0', 63: '70a8a0', 64: 'dce4f0', 65: '88ffff', 66: '84ff68', 67: 'a484f8', 68: '90ccc4', 69: 'e88c98', 70: 'f8f884', 71: '907090', 72: '7078a8', 73: 'ccc8e4', 74: '7870b4', 75: '9c94ac', 76: '78f898', 77: 'd8a878', 78: '70a0ff', 79: 'b8f8e4', 80: 'fcf07c', 81: 'c0a0c8', 82: 'b0acfc', 83: 'b474d4', 84: '9084d4', 85: '80a4ec', 86: 'e89490', 87: 'bce4f4', 88: '9cbce4', 89: 'dcc0e4', 90: 'b8ffe8', 91: '60a8cc', 92: '9868ac', 93: 'dcc470', 94: '64ff64', 95: '6cc0dc'}

rows = [mm0_a, mm0_b, mm0_c, mm0_d, mm0_e, mm0_f, mm_in0, mas_in0, mas_in1, mas_in2, mas_in3, mas_in4, csel,
        mas0_a, mas0_b, mas1_a, mas1_b, mas2_a, mas2_b, mas3_a, mas3_b, mas4_a, mas4_b, mm_mem0, mm_mem1,
        mas_mem0, mas_mem1, mas_mem2, mas_mem3, mas_mem4, mas_mem5, mas_mem6, mas_mem7, mas_mem8, mas_mem9,
        main_mem_w, main_mem_r0, main_mem_r1]


def base_colour(shown):
    # undo the blend on white, so the bar looks like `shown` once alpha is applied
    channels = [int(shown[i:i + 2], 16) / 255 for i in (0, 2, 4)]
    return tuple(min(1, max(0, (c - (1 - ALPHA)) / ALPHA)) for c in channels)


fig = plt.figure(figsize=(6027 / 200, 1054 / 200))
ax = fig.add_axes([234.6 / 6027, 1 - 986.6 / 1054, 5773 / 6027, 923.6 / 1054])

for y, (row, duration) in enumerate(zip(rows, durations)):
    for start, shown in row.items():
        c = base_colour(shown)
        ax.barh(y, duration, left=start, height=1, color=c, edgecolor=c, linewidth=1, alpha=ALPHA)

ax.set_yticks(range(len(row_labels)))
ax.set_yticklabels(row_labels)
ax.set_xlim(0, 137)
ax.set_ylim(len(row_labels) - 0.5, -0.5)
ax.set_title(TITLE)

fig.savefig('out.png', dpi=200)
